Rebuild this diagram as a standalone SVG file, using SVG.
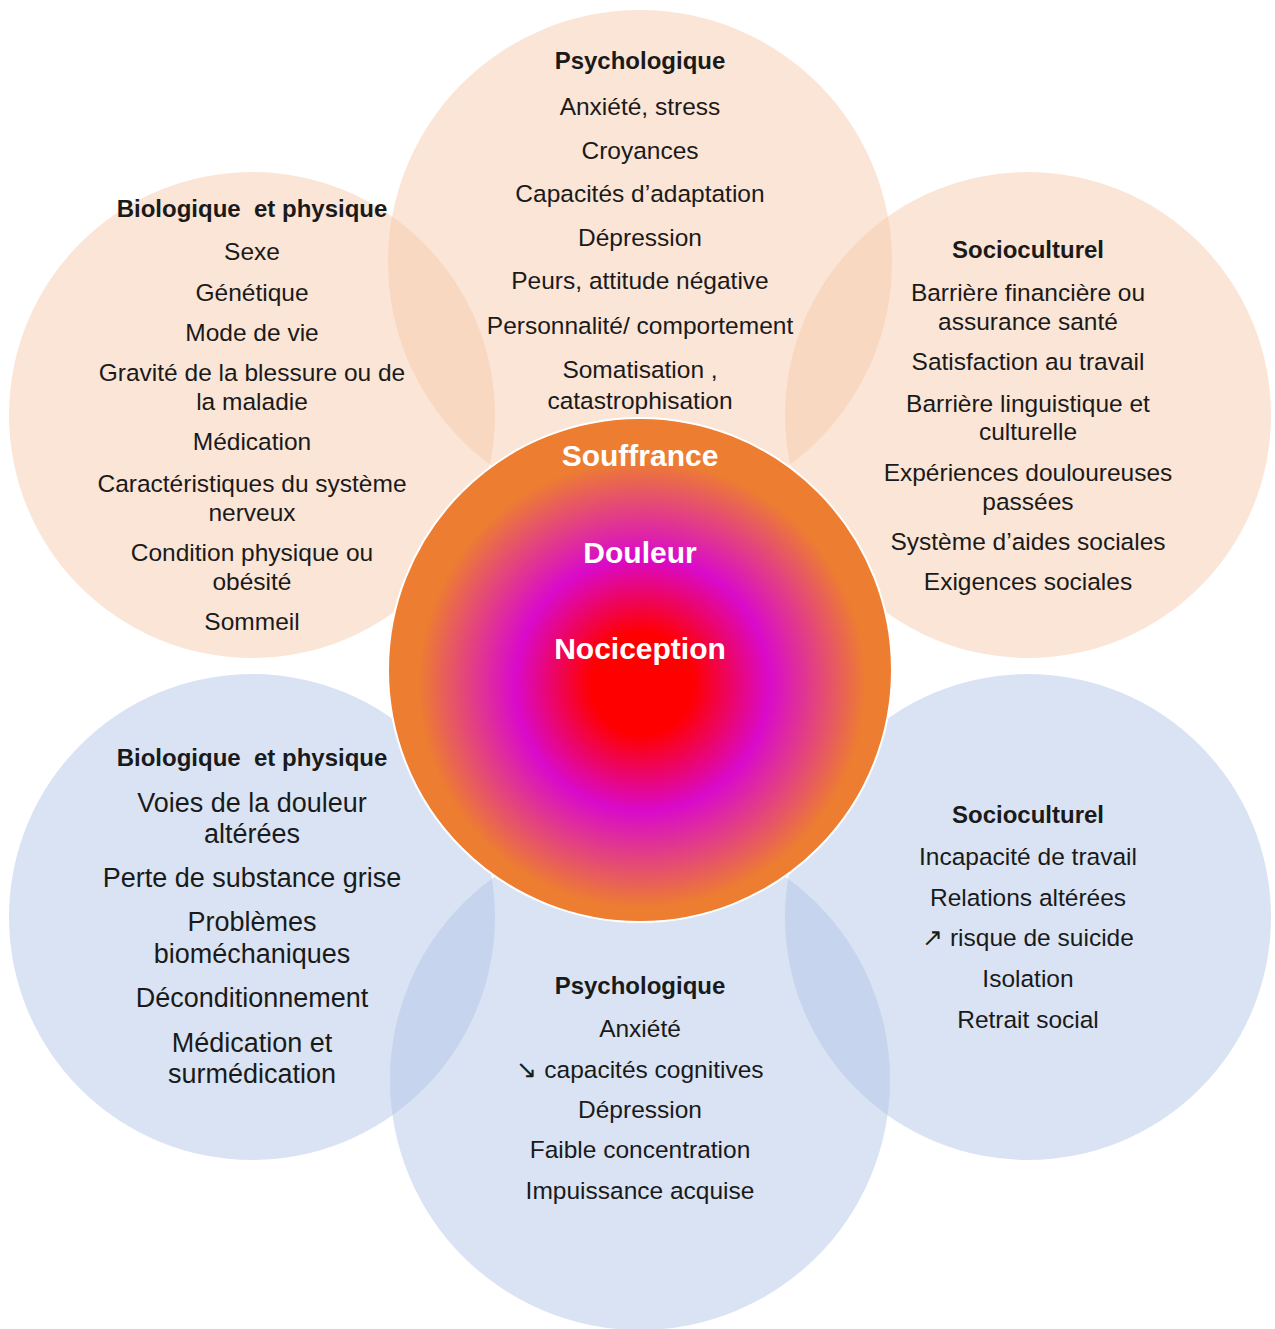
<svg xmlns="http://www.w3.org/2000/svg" width="1275" height="1329" viewBox="0 0 1275 1329">
<defs>
<radialGradient id="core" cx="642" cy="684" r="254" gradientUnits="userSpaceOnUse">
<stop offset="0" stop-color="#FF0000"/>
<stop offset="0.2" stop-color="#FF0000"/>
<stop offset="0.5" stop-color="#D90ACB"/>
<stop offset="0.88" stop-color="#ED7D31"/>
<stop offset="1" stop-color="#ED7D31"/>
</radialGradient>
<style>
.peach{fill:#F8CBAD;fill-opacity:0.5}
.blue{fill:#B4C7E7;fill-opacity:0.5}
text{font-family:"Liberation Sans",Arial,sans-serif;font-size:24.5px;fill:#1a1a1a;text-anchor:middle}
.h{font-weight:bold;font-size:24px}
.big{font-size:27px}
.c{font-weight:bold;font-size:30px;fill:#fff}
</style>
</defs>
<g id="circles">
<circle id="bio-top" class="peach" cx="252" cy="415" r="243"/>
<circle id="socio-top" class="peach" cx="1028" cy="415" r="243"/>
<circle id="psy-top" class="peach" cx="640" cy="262" r="252"/>
<circle id="bio-bottom" class="blue" cx="252" cy="917" r="243"/>
<circle id="socio-bottom" class="blue" cx="1028" cy="917" r="243"/>
<circle id="psy-bottom" class="blue" cx="640" cy="1080" r="250"/>
</g>
<g id="center">
<circle cx="640" cy="670" r="252" fill="url(#core)" stroke="#fff" stroke-width="2"/>
<text class="c" x="640" y="466">Souffrance</text>
<text class="c" x="640" y="563">Douleur</text>
<text class="c" x="640" y="659">Nociception</text>
</g>
<g id="psy-top-text">
<text class="h" x="640" y="69">Psychologique</text>
<text x="640" y="115">Anxiété, stress</text>
<text x="640" y="159">Croyances</text>
<text x="640" y="202">Capacités d’adaptation</text>
<text x="640" y="246">Dépression</text>
<text x="640" y="289">Peurs, attitude négative</text>
<text x="640" y="334">Personnalité/ comportement</text>
<text x="640" y="378">Somatisation ,</text>
<text x="640" y="409">catastrophisation</text>
</g>
<g id="bio-top-text">
<text class="h" x="252" y="217">Biologique&#160; et physique</text>
<text x="252" y="260">Sexe</text>
<text x="252" y="301">Génétique</text>
<text x="252" y="341">Mode de vie</text>
<text x="252" y="381">Gravité de la blessure ou de</text>
<text x="252" y="410">la maladie</text>
<text x="252" y="450">Médication</text>
<text x="252" y="492">Caractéristiques du système</text>
<text x="252" y="521">nerveux</text>
<text x="252" y="561">Condition physique ou</text>
<text x="252" y="590">obésité</text>
<text x="252" y="630">Sommeil</text>
</g>
<g id="socio-top-text">
<text class="h" x="1028" y="258">Socioculturel</text>
<text x="1028" y="301">Barrière financière ou</text>
<text x="1028" y="330">assurance santé</text>
<text x="1028" y="370">Satisfaction au travail</text>
<text x="1028" y="412">Barrière linguistique et</text>
<text x="1028" y="440">culturelle</text>
<text x="1028" y="481">Expériences douloureuses</text>
<text x="1028" y="510">passées</text>
<text x="1028" y="550">Système d’aides sociales</text>
<text x="1028" y="590">Exigences sociales</text>
</g>
<g id="bio-bottom-text">
<text class="h" x="252" y="766">Biologique&#160; et physique</text>
<text class="big" x="252" y="812">Voies de la douleur</text>
<text class="big" x="252" y="843">altérées</text>
<text class="big" x="252" y="887">Perte de substance grise</text>
<text class="big" x="252" y="931">Problèmes</text>
<text class="big" x="252" y="963">bioméchaniques</text>
<text class="big" x="252" y="1007">Déconditionnement</text>
<text class="big" x="252" y="1052">Médication et</text>
<text class="big" x="252" y="1083">surmédication</text>
</g>
<g id="socio-bottom-text">
<text class="h" x="1028" y="823">Socioculturel</text>
<text x="1028" y="865">Incapacité de travail</text>
<text x="1028" y="906">Relations altérées</text>
<text x="1028" y="946">↗ risque de suicide</text>
<text x="1028" y="987">Isolation</text>
<text x="1028" y="1028">Retrait social</text>
</g>
<g id="psy-bottom-text">
<text class="h" x="640" y="994">Psychologique</text>
<text x="640" y="1037">Anxiété</text>
<text x="640" y="1078">↘ capacités cognitives</text>
<text x="640" y="1118">Dépression</text>
<text x="640" y="1158">Faible concentration</text>
<text x="640" y="1199">Impuissance acquise</text>
</g>
</svg>
